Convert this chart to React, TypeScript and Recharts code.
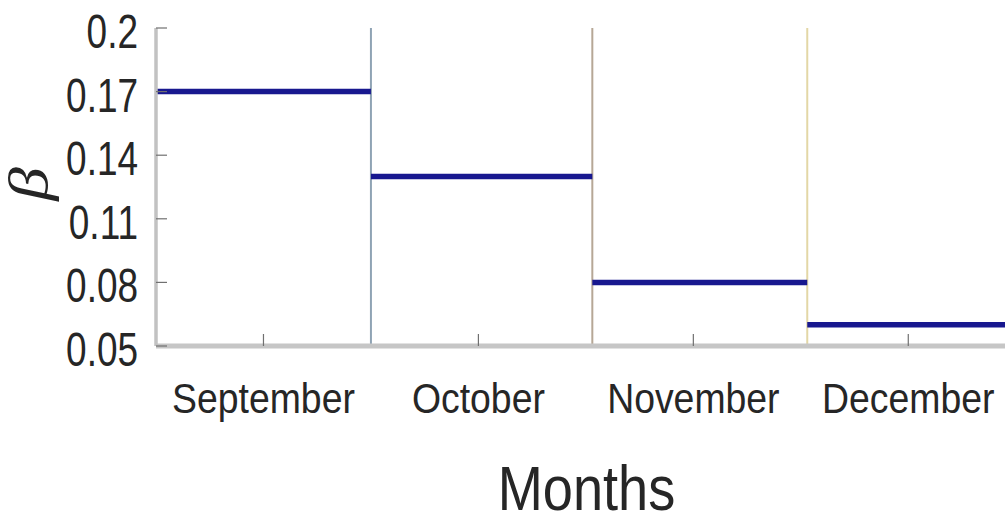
import { LineChart, Line, XAxis, YAxis, ReferenceLine } from 'recharts';

// months on the x axis, one band each
const months = ['September', 'October', 'November', 'December'];
const monthTicks = [0.5, 1.5, 2.5, 3.5];
// band edges (last month is cut at the right edge)
const monthBounds = [0, 1, 2.03, 3.03, 3.95];
const betaValues = [0.17, 0.13, 0.08, 0.06];
const betaTicks = [0.05, 0.08, 0.11, 0.14, 0.17, 0.2];
const dividerColors = ['#8fa3b4', '#b6a796', '#e3d7a6'];

const FONT = '"Liberation Sans", Arial, Helvetica, sans-serif';
const TEXT = '#262626';
const TICK = '#707070';

const segments = months.map((m, i) => ({
  name: m,
  data: [
    { x: monthBounds[i], y: betaValues[i] },
    { x: monthBounds[i + 1], y: betaValues[i] },
  ],
}));

function BottomTick({ x, y, payload }: any) {
  const i = monthTicks.indexOf(payload.value);
  return (
    <g>
      <line x1={x} x2={x} y1={y} y2={y - 12} stroke={TICK} strokeWidth={1.2} />
      <text
        transform={`translate(${x},${y + 67}) scale(0.89,1)`}
        textAnchor="middle"
        fontSize={42}
        fontFamily={FONT}
        fill={TEXT}
      >
        {months[i]}
      </text>
    </g>
  );
}

function TopTick({ x, y }: any) {
  return <line x1={x} x2={x} y1={y} y2={y + 13} stroke={TICK} strokeWidth={1.2} />;
}

function LeftTick({ x, y, payload }: any) {
  return (
    <g>
      <line x1={x} x2={x + 11} y1={y} y2={y} stroke={TICK} strokeWidth={1.2} />
      <text
        transform={`translate(${x - 18},${y + 20}) scale(0.77,1)`}
        textAnchor="end"
        fontSize={48}
        fontFamily={FONT}
        fill={TEXT}
      >
        {String(payload.value)}
      </text>
    </g>
  );
}

function RightTick({ x, y }: any) {
  return <line x1={x} x2={x - 11} y1={y} y2={y} stroke={TICK} strokeWidth={1.2} />;
}

export default function App() {
  return (
    <div style={{ position: 'absolute', left: 0, top: 0, width: 1006, height: 523, background: '#fff' }}>
      <LineChart width={1006} height={523} margin={{ top: 28, right: 1, bottom: 0, left: 0 }}>
        <XAxis
          xAxisId="bottom"
          type="number"
          dataKey="x"
          domain={[0, 3.95]}
          ticks={monthTicks}
          height={177}
          tickSize={0}
          tickMargin={0}
          tickLine={false}
          tick={(p: any) => <BottomTick {...p} />}
          axisLine={{ stroke: '#c6c6c6', strokeWidth: 5 }}
          allowDataOverflow
          label={{
            content: ({ viewBox }: any) => (
              <text
                transform={`translate(${viewBox.x + viewBox.width / 2 + 6},${viewBox.y + 164}) scale(0.86,1)`}
                textAnchor="middle"
                fontSize={63}
                fontFamily={FONT}
                fill={TEXT}
              >
                Months
              </text>
            ),
          }}
        />
        <XAxis
          xAxisId="top"
          orientation="top"
          type="number"
          dataKey="x"
          domain={[0, 3.95]}
          ticks={monthTicks}
          height={0}
          tickSize={0}
          tickMargin={0}
          tickLine={false}
          tick={(p: any) => <TopTick {...p} />}
          axisLine={{ stroke: '#7c7c7c', strokeWidth: 2.5 }}
          allowDataOverflow
        />
        <YAxis
          yAxisId="left"
          type="number"
          domain={[0.05, 0.2]}
          ticks={betaTicks}
          width={156}
          tickSize={0}
          tickMargin={0}
          tickLine={false}
          tick={(p: any) => <LeftTick {...p} />}
          axisLine={{ stroke: '#c2c2c2', strokeWidth: 3.5 }}
          allowDataOverflow
          label={{
            content: () => (
              <text
                transform="translate(47,184) rotate(-90) scale(1.25,1)"
                textAnchor="middle"
                fontSize={54}
                fontStyle="italic"
                fontFamily='"Liberation Serif", serif'
                fill={TEXT}
              >
                β
              </text>
            ),
          }}
        />
        <YAxis
          yAxisId="right"
          orientation="right"
          type="number"
          domain={[0.05, 0.2]}
          ticks={betaTicks}
          width={0}
          tickSize={0}
          tickMargin={0}
          tickLine={false}
          tick={(p: any) => <RightTick {...p} />}
          axisLine={false}
          allowDataOverflow
        />
        {dividerColors.map((c, i) => (
          <ReferenceLine
            key={i}
            xAxisId="bottom"
            yAxisId="left"
            x={monthBounds[i + 1]}
            stroke={c}
            strokeWidth={2}
          />
        ))}
        {segments.map((s) => (
          <Line
            key={s.name}
            xAxisId="bottom"
            yAxisId="left"
            data={s.data}
            dataKey="y"
            stroke="#18188f"
            strokeWidth={5.5}
            dot={false}
            activeDot={false}
            isAnimationActive={false}
          />
        ))}
      </LineChart>
    </div>
  );
}
